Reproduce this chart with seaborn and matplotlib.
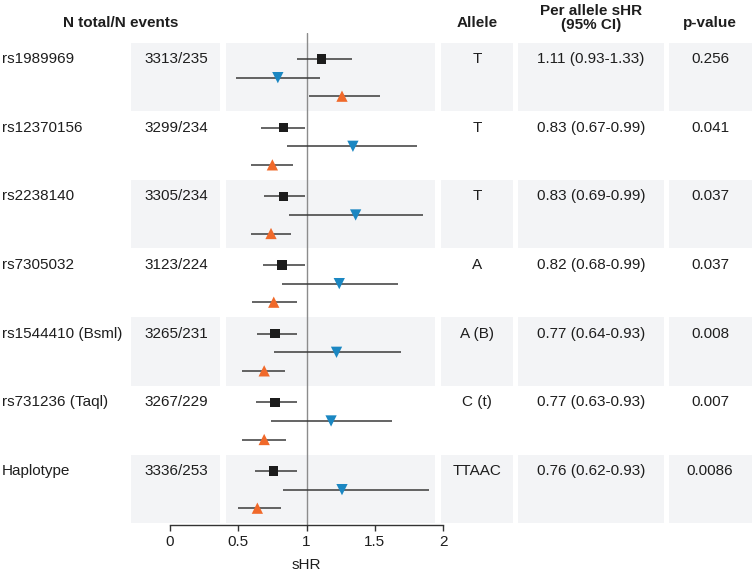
#!/usr/bin/env python3
"""
Forest plot of per-allele sHR by SNP, with table columns alongside.
"""

import matplotlib

matplotlib.use("Agg")
import matplotlib.pyplot as plt
import matplotlib.transforms as mtransforms
import pandas as pd
import seaborn as sns
from matplotlib.patches import Rectangle

W, H = 755, 572

snps = [
    "rs1989969",
    "rs12370156",
    "rs2238140",
    "rs7305032",
    "rs1544410 (Bsml)",
    "rs731236 (Taql)",
    "Haplotype",
]
n_counts = ["3313/235", "3299/234", "3305/234", "3123/224", "3265/231", "3267/229", "3336/253"]
alleles = ["T", "T", "T", "A", "A (B)", "C (t)", "TTAAC"]
shr_text = [
    "1.11 (0.93-1.33)",
    "0.83 (0.67-0.99)",
    "0.83 (0.69-0.99)",
    "0.82 (0.68-0.99)",
    "0.77 (0.64-0.93)",
    "0.77 (0.63-0.93)",
    "0.76 (0.62-0.93)",
]
p_values = ["0.256", "0.041", "0.037", "0.037", "0.008", "0.007", "0.0086"]

# black squares (all)
all_hr = [1.11, 0.83, 0.83, 0.82, 0.77, 0.77, 0.76]
all_lo = [0.93, 0.67, 0.69, 0.68, 0.64, 0.63, 0.62]
all_hi = [1.33, 0.99, 0.99, 0.99, 0.93, 0.93, 0.93]
# blue down triangles
blue_hr = [0.79, 1.34, 1.36, 1.24, 1.22, 1.18, 1.26]
blue_lo = [0.48, 0.86, 0.87, 0.82, 0.76, 0.74, 0.83]
blue_hi = [1.10, 1.81, 1.85, 1.67, 1.69, 1.63, 1.90]
# orange up triangles
orange_hr = [1.26, 0.75, 0.74, 0.76, 0.69, 0.69, 0.64]
orange_lo = [1.02, 0.59, 0.59, 0.60, 0.53, 0.53, 0.50]
orange_hi = [1.54, 0.90, 0.89, 0.93, 0.84, 0.85, 0.81]

groups = {
    "all": (all_hr, all_lo, all_hi),
    "subgroup 1": (blue_hr, blue_lo, blue_hi),
    "subgroup 2": (orange_hr, orange_lo, orange_hi),
}
offsets = {"all": -0.26, "subgroup 1": 0.01, "subgroup 2": 0.28}
palette = {"all": "#1c1c1c", "subgroup 1": "#1b87c2", "subgroup 2": "#f0692a"}
markers = {"all": "s", "subgroup 1": "v", "subgroup 2": "^"}
sizes = {"all": 44, "subgroup 1": 66, "subgroup 2": 66}

records = []
for name, (hr, lo, hi) in groups.items():
    for i in range(len(snps)):
        records.append(
            {"row": i, "y": i + offsets[name], "hr": hr[i], "lo": lo[i], "hi": hi[i], "group": name}
        )
df = pd.DataFrame(records)

sns.set_theme(style="white")
plt.rcParams["font.family"] = ["Liberation Sans", "DejaVu Sans"]
plt.rcParams["text.color"] = "#1e1e1e"
plt.rcParams["xtick.color"] = "#1e1e1e"
plt.rcParams["axes.labelcolor"] = "#1e1e1e"

fig = plt.figure(figsize=(W / 100, H / 100), dpi=100)
ax = fig.add_axes([170 / W, (H - 525) / H, 273 / W, 492 / H])
ax.set_facecolor("none")

trans = mtransforms.blended_transform_factory(fig.transFigure, ax.transData)
shade = "#f3f4f6"
boxes = [(131, 220), (226, 435), (441, 513), (518, 664), (669, 752)]
for i in range(0, len(snps), 2):
    for x0, x1 in boxes:
        ax.add_patch(
            Rectangle(
                (x0 / W, i - 0.497),
                (x1 - x0) / W,
                0.994,
                transform=trans,
                facecolor=shade,
                edgecolor="none",
                zorder=0,
                clip_on=False,
            )
        )

ax.axvline(1, color="#8c8c8c", lw=1.0, zorder=1)
ax.hlines(df["y"], df["lo"], df["hi"], color="#3a3a3a", lw=1.1, zorder=2)
sns.scatterplot(
    data=df,
    x="hr",
    y="y",
    hue="group",
    style="group",
    size="group",
    palette=palette,
    markers=markers,
    sizes=sizes,
    edgecolor="none",
    linewidth=0,
    legend=False,
    zorder=3,
    ax=ax,
)

fs = 11
for i in range(len(snps)):
    ty = i + offsets["all"]
    ax.text(2 / W, ty, snps[i], transform=trans, ha="left", va="center", fontsize=fs, clip_on=False)
    ax.text(176 / W, ty, n_counts[i], transform=trans, ha="center", va="center", fontsize=fs, clip_on=False)
    ax.text(477 / W, ty, alleles[i], transform=trans, ha="center", va="center", fontsize=fs, clip_on=False)
    ax.text(591 / W, ty, shr_text[i], transform=trans, ha="center", va="center", fontsize=fs, clip_on=False)
    ax.text(710 / W, ty, p_values[i], transform=trans, ha="center", va="center", fontsize=fs, clip_on=False)

fig.text(121 / W, 1 - 23 / H, "N total/N events", ha="center", va="center", fontsize=fs, fontweight="bold")
fig.text(477 / W, 1 - 23 / H, "Allele", ha="center", va="center", fontsize=fs, fontweight="bold")
fig.text(591 / W, 1 - 18 / H, "Per allele sHR\n(95% CI)", ha="center", va="center",
         fontsize=fs, fontweight="bold", linespacing=1.05)
fig.text(710 / W, 1 - 23 / H, "p-value", ha="center", va="center", fontsize=fs, fontweight="bold")

ax.set_xlim(0, 2)
ax.set_ylim(6.525, -0.64)
ax.set_xticks([0, 0.5, 1, 1.5, 2])
ax.set_xticklabels(["0", "0.5", "1", "1.5", "2"])
ax.set_yticks([])
ax.set_ylabel("")
ax.set_xlabel("sHR", fontsize=fs, labelpad=7)
for side in ("left", "top", "right"):
    ax.spines[side].set_visible(False)
ax.spines["bottom"].set_color("#333333")
ax.spines["bottom"].set_linewidth(1.0)
ax.tick_params(axis="x", direction="out", length=4, width=1, color="#333333",
               labelsize=fs, pad=3, bottom=True)

fig.savefig("out.png", dpi=100)
